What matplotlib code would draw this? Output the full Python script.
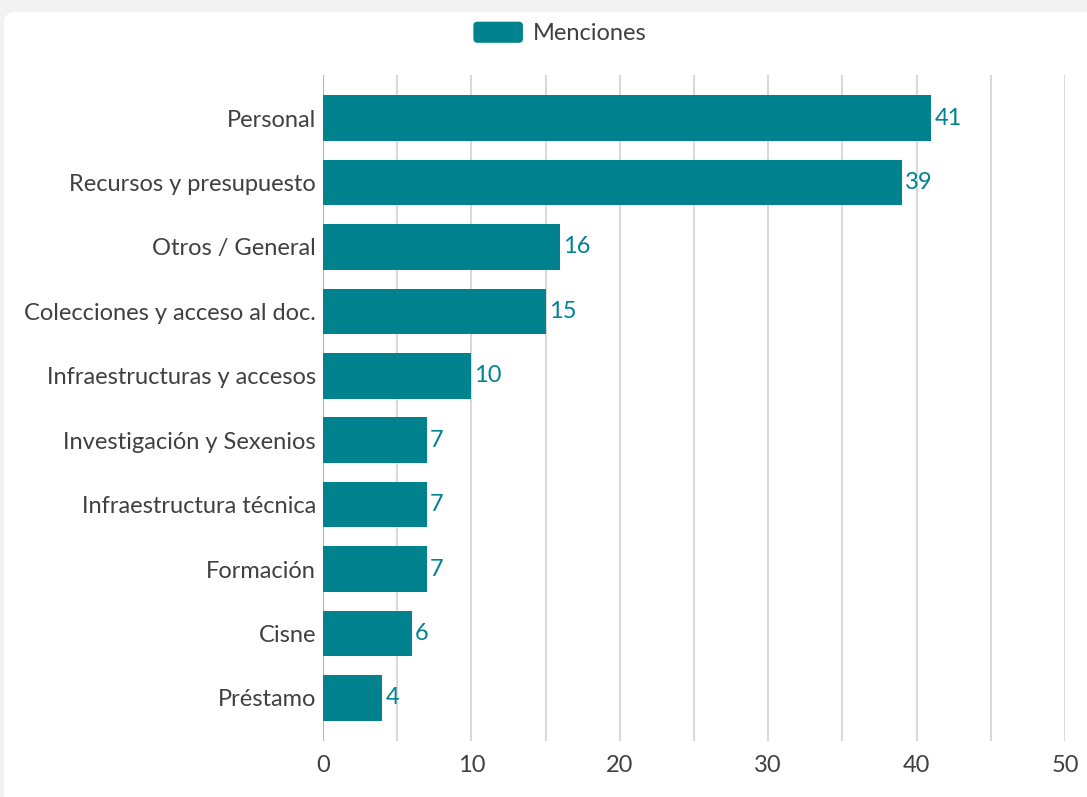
import matplotlib.pyplot as plt
from matplotlib.patches import FancyBboxPatch, Patch
from matplotlib.legend_handler import HandlerPatch

categories = ['Personal', 'Recursos y presupuesto', 'Otros / General',
              'Colecciones y acceso al doc.', 'Infraestructuras y accesos',
              'Investigación y Sexenios', 'Infraestructura técnica',
              'Formación', 'Cisne', 'Préstamo']
menciones = [41, 39, 16, 15, 10, 7, 7, 7, 6, 4]
x_ticks = [0, 10, 20, 30, 40, 50]

teal = '#00838f'
text_col = '#404040'

plt.rcParams['font.family'] = ['Lato', 'DejaVu Sans']

fig = plt.figure(figsize=(10.87, 7.97), dpi=100)
fig.patch.set_facecolor('#f2f2f2')

# tarjeta blanca de fondo
card = FancyBboxPatch((4 / 1087, -0.1), 1.1, 1.1 - 12 / 797,
                      boxstyle='round,pad=0,rounding_size=0.012',
                      transform=fig.transFigure, facecolor='white',
                      edgecolor='none', zorder=-5)
fig.patches.append(card)

ax = fig.add_axes([323 / 1087, 1 - 741 / 797, (1065 - 323) / 1087, (741 - 75) / 797])
ax.set_facecolor('none')
ax.set_zorder(2)

y = list(range(len(categories)))
bars = ax.barh(y, menciones, height=0.71, color=teal, zorder=3)

for yi, v in zip(y, menciones):
    ax.text(v + 0.2, yi, str(v), va='center', ha='left',
            color=teal, fontsize=17, zorder=4)

ax.set_xlim(0, 50)
ax.set_ylim(len(categories) - 1 + 0.67, -0.67)
ax.set_yticks(y)
ax.set_yticklabels(categories, fontsize=17, color=text_col)
ax.set_xticks(x_ticks)
ax.set_xticklabels([str(t) for t in x_ticks], fontsize=17, color=text_col)
ax.set_xticks(range(0, 51, 5), minor=True)
ax.tick_params(axis='y', length=0, pad=5)
ax.tick_params(axis='x', which='both', length=0, pad=10)

ax.grid(axis='x', which='both', color='#d9d9d9', linewidth=1.5, zorder=1)
ax.axvline(0, color='#b5b5b5', linewidth=1.5, zorder=2)
for s in ax.spines.values():
    s.set_visible(False)


def rounded_handle(legend, orig_handle, xdescent, ydescent, width, height, fontsize):
    return FancyBboxPatch((-xdescent, -ydescent), width, height,
                          boxstyle='round,pad=0,rounding_size=3')


handle = Patch(facecolor=teal, edgecolor='none')
fig.legend([handle], ['Menciones'], loc='center', bbox_to_anchor=(560 / 1087, 1 - 33 / 797),
           frameon=False, fontsize=17, labelcolor=text_col, handlelength=2.1,
           handleheight=1.0, handletextpad=0.42,
           handler_map={Patch: HandlerPatch(patch_func=rounded_handle)})

fig.savefig('out.png', dpi=100, facecolor=fig.get_facecolor())
